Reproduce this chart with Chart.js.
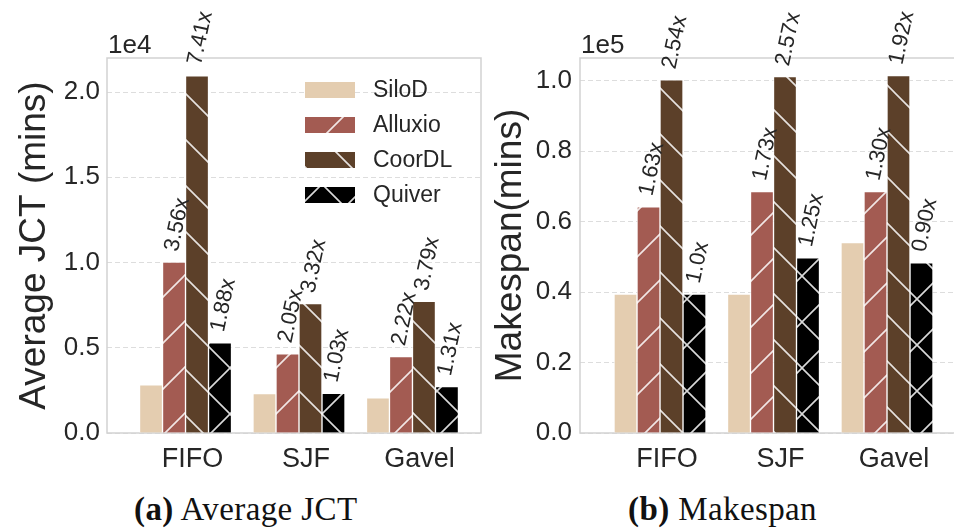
<!DOCTYPE html>
<html>
<head>
<meta charset="utf-8">
<script src="https://cdn.jsdelivr.net/npm/chart.js@4.4.1/dist/chart.umd.min.js"></script>
<style>
  html, body { margin: 0; padding: 0; background: #fff; overflow: hidden; width: 954px; height: 532px; }
  #jct { position: absolute; left: 0; top: 0; }
  #makespan { position: absolute; left: 480px; top: 0; }
  .cap { position: absolute; top: 491px; font-family: "Liberation Serif", serif; font-size: 33px; letter-spacing: 0.4px; color: #111; white-space: nowrap; }
</style>
</head>
<body>
<canvas id="jct" width="484" height="480"></canvas>
<canvas id="makespan" width="476" height="480"></canvas>
<div class="cap" style="left:134px"><b>(a)</b> Average JCT</div>
<div class="cap" style="left:628px"><b>(b)</b> Makespan</div>
<script>
const categories = ['FIFO', 'SJF', 'Gavel'];
const seriesNames = ['SiloD', 'Alluxio', 'CoorDL', 'Quiver'];

// average JCT, mins
const jctSiloD = [2830, 2310, 2070];
const jctAlluxio = [10020, 4650, 4490];
const jctCoorDL = [20960, 7590, 7720];
const jctQuiver = [5290, 2330, 2720];
const jctAlluxioLabels = ['3.56x', '2.05x', '2.22x'];
const jctCoorDLLabels = ['7.41x', '3.32x', '3.79x'];
const jctQuiverLabels = ['1.88x', '1.03x', '1.31x'];
const jctTicks = [0, 5000, 10000, 15000, 20000];

// makespan, mins
const mkSiloD = [39400, 39400, 54000];
const mkAlluxio = [64200, 68500, 68500];
const mkCoorDL = [100200, 101100, 101400];
const mkQuiver = [39400, 49700, 48300];
const mkAlluxioLabels = ['1.63x', '1.73x', '1.30x'];
const mkCoorDLLabels = ['2.54x', '2.57x', '1.92x'];
const mkQuiverLabels = ['1.0x', '1.25x', '0.90x'];
const mkTicks = [0, 20000, 40000, 60000, 80000, 100000];

const FONT = '"Liberation Sans", Arial, sans-serif';
const TEXT = '#262626';
Chart.defaults.font.family = FONT;
Chart.defaults.color = TEXT;

function hatch(bg, kind) {
  const s = 46;
  const c = document.createElement('canvas');
  c.width = s; c.height = s;
  const g = c.getContext('2d');
  g.fillStyle = bg;
  g.fillRect(0, 0, s, s);
  if (kind) {
    g.strokeStyle = 'rgba(255,255,255,0.85)';
    g.lineWidth = 1.6;
    g.beginPath();
    if (kind === '/' || kind === 'x') {
      g.moveTo(-2, s + 2); g.lineTo(s + 2, -2);
      g.moveTo(-2, 2); g.lineTo(2, -2);
      g.moveTo(s - 2, s + 2); g.lineTo(s + 2, s - 2);
    }
    if (kind === '\\' || kind === 'x') {
      g.moveTo(-2, -2); g.lineTo(s + 2, s + 2);
      g.moveTo(s - 2, -2); g.lineTo(s + 2, 2);
      g.moveTo(-2, s - 2); g.lineTo(2, s + 2);
    }
    g.stroke();
  }
  return g.createPattern(c, 'repeat');
}

const fills = [
  hatch('#e4cdb0', null),
  hatch('#a35b52', '/'),
  hatch('#5c4029', '\\'),
  hatch('#000000', 'x')
];

function dataset(i, values, labels) {
  return {
    label: seriesNames[i],
    data: values.map((v, k) => ({ x: k, y: v })),
    backgroundColor: fills[i],
    borderColor: 'rgba(255,255,255,0.7)',
    borderWidth: 1,
    barThickness: 23,
    ratios: labels
  };
}

// plot frame (light grey box around the axes)
const frame = {
  id: 'frame',
  beforeDatasetsDraw(chart) {
    const a = chart.chartArea, ctx = chart.ctx;
    ctx.save();
    ctx.strokeStyle = '#d2d2d2';
    ctx.lineWidth = 1.5;
    ctx.strokeRect(a.left, a.top, a.right - a.left, a.bottom - a.top);
    ctx.restore();
  }
};

// rotated ratio labels over the bars + the 1eN multiplier
const ratioLabels = {
  id: 'ratioLabels',
  afterDatasetsDraw(chart, args, opts) {
    const ctx = chart.ctx;
    const th = 78 * Math.PI / 180;
    ctx.save();
    ctx.fillStyle = TEXT;
    ctx.font = '22px ' + FONT;
    chart.data.datasets.forEach((ds, di) => {
      if (!ds.ratios) return;
      chart.getDatasetMeta(di).data.forEach((bar, k) => {
        const t = ds.ratios[k];
        const m = ctx.measureText(t);
        const asc = m.actualBoundingBoxAscent, desc = m.actualBoundingBoxDescent;
        const H = m.width * Math.sin(th) + (asc + desc) * Math.cos(th);
        ctx.save();
        ctx.translate(bar.x + 2, bar.y - 10 - H / 2);
        ctx.rotate(-th);
        ctx.textAlign = 'center';
        ctx.textBaseline = 'alphabetic';
        ctx.fillText(t, 0, (asc - desc) / 2);
        ctx.restore();
      });
    });
    const a = chart.chartArea;
    ctx.font = '26px ' + FONT;
    ctx.textAlign = 'left';
    ctx.textBaseline = 'alphabetic';
    ctx.fillText(opts.multiplier, a.left + 1, a.top - 5);
    ctx.restore();
  }
};

const legendBox = {
  id: 'legendBox',
  afterDraw(chart, args, opts) {
    if (!opts.show) return;
    const ctx = chart.ctx;
    ctx.save();
    ctx.font = '23px ' + FONT;
    ctx.textBaseline = 'middle';
    ctx.textAlign = 'left';
    seriesNames.forEach((name, i) => {
      const y = 90 + i * 35;
      ctx.fillStyle = fills[i];
      ctx.fillRect(305, y - 8, 50, 16);
      ctx.fillStyle = TEXT;
      ctx.fillText(name, 373, y + 1);
    });
    ctx.restore();
  }
};

function makeChart(id, sets, o) {
  return new Chart(document.getElementById(id), {
    type: 'bar',
    data: { datasets: sets },
    options: {
      responsive: false,
      animation: false,
      layout: { padding: { top: 58, right: o.padRight, left: 0, bottom: 0 } },
      plugins: {
        legend: { display: false },
        tooltip: { enabled: false },
        ratioLabels: { multiplier: o.multiplier },
        legendBox: { show: o.legend }
      },
      scales: {
        x: {
          type: 'linear',
          offset: false,
          min: o.xMin,
          max: o.xMax,
          grid: { display: false, offset: false },
          border: { display: false },
          afterBuildTicks: ax => { ax.ticks = categories.map((c, i) => ({ value: i })); },
          afterFit: ax => { ax.height = 47; },
          ticks: {
            callback: v => categories[v],
            font: { size: 27 },
            padding: 2,
            labelOffset: 7,
            maxRotation: 0,
            autoSkip: false
          }
        },
        y: {
          min: 0,
          max: o.yMax,
          afterBuildTicks: ax => { ax.ticks = o.ticks.map(v => ({ value: v })); },
          afterFit: ax => { ax.width = o.yWidth; },
          ticks: {
            callback: v => (v / o.scale).toFixed(1),
            font: { size: 26 },
            padding: o.tickPad,
            autoSkip: false
          },
          grid: { color: '#dddddd', lineWidth: 1, drawTicks: false },
          border: { display: false, dash: [5, 3] },
          title: {
            display: true,
            text: o.title,
            font: { size: 37 },
            padding: { top: o.titlePad, bottom: 0 }
          }
        }
      }
    },
    plugins: [frame, ratioLabels, legendBox]
  });
}

makeChart('jct', [
  dataset(0, jctSiloD, null),
  dataset(1, jctAlluxio, jctAlluxioLabels),
  dataset(2, jctCoorDL, jctCoorDLLabels),
  dataset(3, jctQuiver, jctQuiverLabels)
], {
  padRight: 3, xMin: -0.692, xMax: 2.604, yMax: 22000, ticks: jctTicks, scale: 1e4,
  yWidth: 107, tickPad: 7, title: 'Average JCT (mins)', titlePad: 13,
  multiplier: '1e4', legend: true
});

makeChart('makespan', [
  dataset(0, mkSiloD, null),
  dataset(1, mkAlluxio, mkAlluxioLabels),
  dataset(2, mkCoorDL, mkCoorDLLabels),
  dataset(3, mkQuiver, mkQuiverLabels)
], {
  padRight: 0, xMin: -0.705, xMax: 2.608, yMax: 106400, ticks: mkTicks, scale: 1e5,
  yWidth: 100, tickPad: 8, title: 'Makespan(mins)', titlePad: 9,
  multiplier: '1e5', legend: false
});
</script>
</body>
</html>
